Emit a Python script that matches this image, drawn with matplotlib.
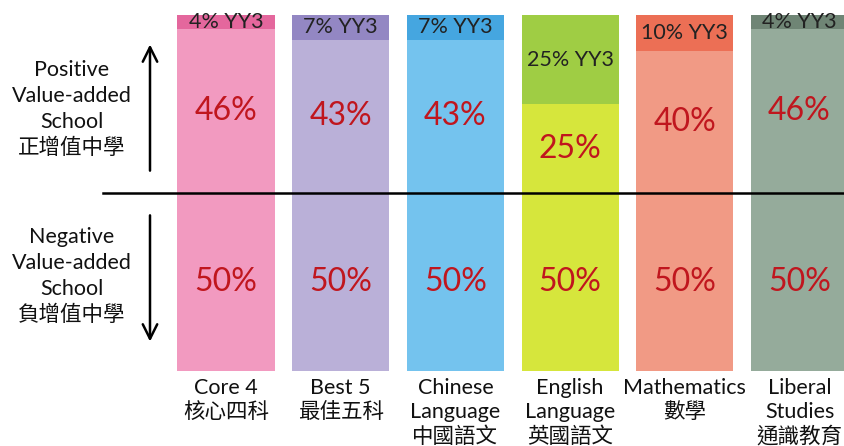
import matplotlib.pyplot as plt

plt.rcParams['font.family'] = ['Lato', 'Noto Sans CJK TC', 'DejaVu Sans']

# Data
subjects = ["Core 4\n核心四科", "Best 5\n最佳五科", "Chinese\nLanguage\n中國語文",
            "English\nLanguage\n英國語文", "Mathematics\n數學", "Liberal\nStudies\n通識教育"]
negative = [50, 50, 50, 50, 50, 50]
positive = [46, 43, 43, 25, 40, 46]
yy3 = [4, 7, 7, 25, 10, 4]

base_colors = ["#f29ac0", "#bab0d8", "#74c3ee", "#d6e63c", "#f19a85", "#95ab9b"]
top_colors = ["#e4679d", "#9387c3", "#45a6e0", "#9fcd44", "#ec6f55", "#6f8575"]

fig = plt.figure(figsize=(8.45, 4.46), dpi=100)
# axes placed so bars sit where they are in the reference
ax = fig.add_axes([0, 75 / 446, 1, 356 / 446])
x = list(range(len(subjects)))
width = 0.846

ax.bar(x, negative, width=width, color=base_colors)
ax.bar(x, positive, width=width, bottom=negative, color=base_colors)
tops = [n + p for n, p in zip(negative, positive)]
ax.bar(x, yy3, width=width, bottom=tops, color=top_colors)

ax.set_xlim(-226 / 114.7, (845 - 226) / 114.7)
ax.set_ylim(0, 100)
ax.axis('off')

red = "#c0161e"
for i in x:
    ax.text(i, negative[i] / 2, f"{negative[i]}%", ha='center', va='center',
            fontsize=23, color=red)
    ax.text(i, negative[i] + positive[i] / 2, f"{positive[i]}%", ha='center',
            va='center', fontsize=23, color=red)
    ax.text(i, tops[i] + yy3[i] / 2, f"{yy3[i]}% YY3", ha='center', va='center',
            fontsize=15.5, color="#222222")
    # category labels under each bar
    for j, line in enumerate(subjects[i].split("\n")):
        ax.text(i, -4.8 - j * 6.8, line, ha='center', va='center', fontsize=15.5,
                color="#111111", clip_on=False)

# dividing line between positive and negative
ax.plot([-1.07, 5.4], [50, 50], color='black', lw=1.8, clip_on=False, zorder=5)

# side labels and arrows
lx = (72 - 226) / 114.7
ax_x = (150 - 226) / 114.7
pos_lines = ["Positive", "Value-added", "School", "正增值中學"]
neg_lines = ["Negative", "Value-added", "School", "負增值中學"]
for j, line in enumerate(pos_lines):
    ax.text(lx, 84.6 - j * 7.3, line, ha='center', va='center', fontsize=15.5,
            color="#111111")
for j, line in enumerate(neg_lines):
    ax.text(lx, 37.6 - j * 7.3, line, ha='center', va='center', fontsize=15.5,
            color="#111111")

ax.annotate("", xy=(ax_x, 92.5), xytext=(ax_x, 55.5),
            arrowprops=dict(arrowstyle='->', color='black', lw=1.8,
                            mutation_scale=26))
ax.annotate("", xy=(ax_x, 7.5), xytext=(ax_x, 44.5),
            arrowprops=dict(arrowstyle='->', color='black', lw=1.8,
                            mutation_scale=26))

fig.savefig("out.png", dpi=100)
